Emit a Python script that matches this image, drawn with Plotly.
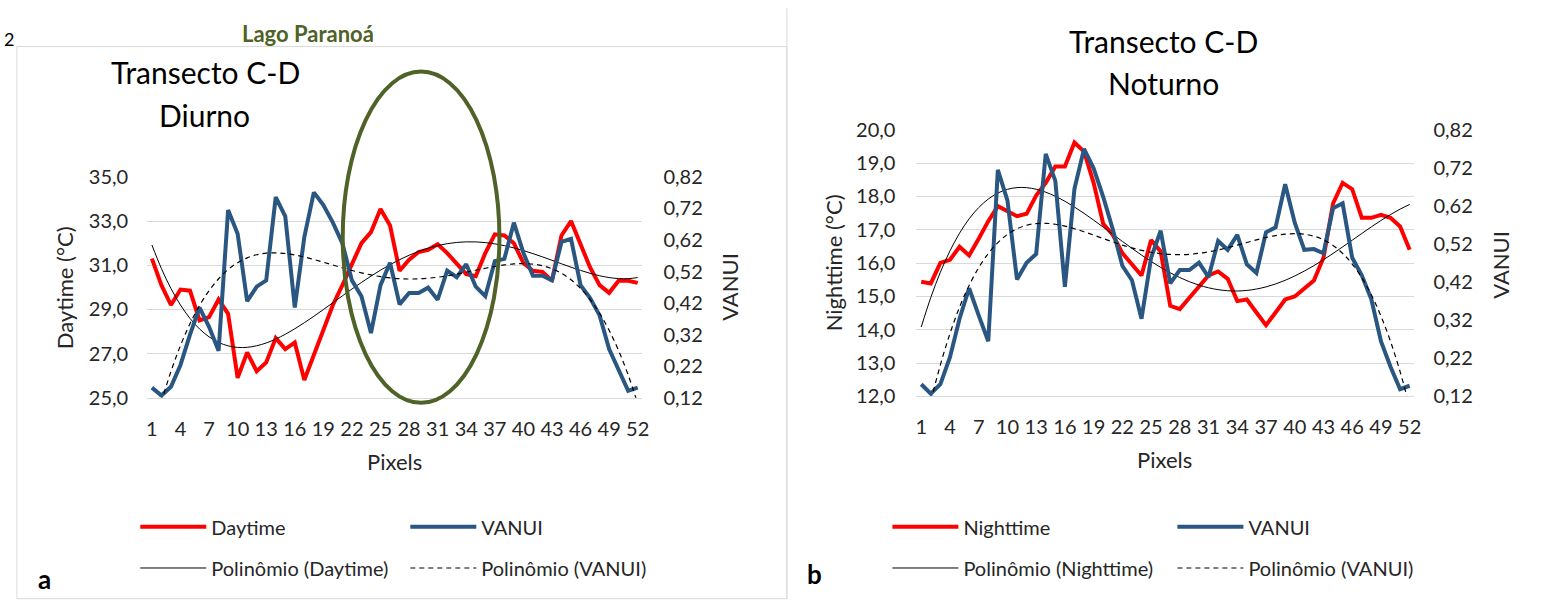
import numpy as np
import plotly.graph_objects as go

# ---------------- data ----------------
pixels = list(range(1, 53))

daytime = [31.3, 30.1, 29.2, 29.9, 29.85, 28.5, 28.65, 29.45, 28.8, 25.9,
           27.05, 26.2, 26.6, 27.7, 27.2, 27.5, 25.8, 26.9, 28.0, 29.2,
           30.1, 31.1, 32.0, 32.5, 33.55, 32.8, 30.75, 31.25, 31.6, 31.7,
           31.95, 31.55, 31.1, 30.6, 30.5, 31.55, 32.4, 32.35, 32.0, 31.1,
           30.75, 30.7, 30.3, 32.35, 33.0, 32.0, 30.9, 30.1, 29.75, 30.3,
           30.3, 30.2]

vanui_day = [0.152, 0.127, 0.155, 0.224, 0.320, 0.406, 0.345, 0.269, 0.715, 0.640,
             0.426, 0.472, 0.492, 0.756, 0.695, 0.406, 0.629, 0.771, 0.731, 0.675,
             0.609, 0.492, 0.442, 0.325, 0.477, 0.548, 0.416, 0.452, 0.452, 0.469,
             0.431, 0.523, 0.502, 0.543, 0.472, 0.442, 0.553, 0.560, 0.675, 0.579,
             0.507, 0.507, 0.492, 0.614, 0.624, 0.477, 0.436, 0.381, 0.274, 0.208,
             0.142, 0.152]

nighttime = [15.44, 15.39, 16.01, 16.10, 16.49, 16.23, 16.73, 17.26, 17.71, 17.55,
             17.41, 17.48, 18.03, 18.41, 18.90, 18.90, 19.62, 19.35, 18.41, 17.18,
             16.85, 16.30, 15.97, 15.63, 16.69, 16.35, 14.72, 14.62, 14.96, 15.29,
             15.63, 15.75, 15.53, 14.86, 14.91, 14.52, 14.14, 14.52, 14.91, 15.00,
             15.24, 15.48, 16.16, 17.79, 18.41, 18.22, 17.36, 17.36, 17.45, 17.36,
             17.10, 16.40]

vanui_night = [0.152, 0.127, 0.152, 0.223, 0.324, 0.404, 0.333, 0.265, 0.715, 0.635,
               0.427, 0.471, 0.494, 0.757, 0.686, 0.408, 0.665, 0.770, 0.719, 0.644,
               0.559, 0.463, 0.425, 0.324, 0.484, 0.555, 0.417, 0.452, 0.452, 0.471,
               0.433, 0.528, 0.505, 0.544, 0.467, 0.444, 0.551, 0.564, 0.677, 0.576,
               0.505, 0.507, 0.496, 0.614, 0.627, 0.484, 0.438, 0.375, 0.265, 0.198,
               0.139, 0.148]

day_ticks = [25, 27, 29, 31, 33, 35]
night_ticks = [12, 13, 14, 15, 16, 17, 18, 19, 20]
vanui_ticks = [0.12, 0.22, 0.32, 0.42, 0.52, 0.62, 0.72, 0.82]
x_ticks = list(range(1, 53, 3))

TREND_ORDER_DAY = 4
TREND_ORDER_NIGHT = 4
TREND_ORDER_VANUI = 4


def poly_trend(values, order):
    coef = np.polyfit(pixels, values, order)
    return np.polyval(coef, pixels)


# ---------------- styling ----------------
W, H = 1547, 603
FONT = "Lato"
RED = "#FF0000"
BLUE = "#2A5782"
GREEN = "#4F6228"
GRID = "#D9D9D9"
TXT = "#262626"
DASH = "5px,4px"


def px(x):
    return x / W


def py(y):
    return 1 - y / H


fig = go.Figure()

# ----- left chart (daytime) -----
fig.add_trace(go.Scatter(x=pixels, y=daytime, mode="lines", name="Daytime",
                         line=dict(color=RED, width=4), xaxis="x", yaxis="y",
                         legend="legend"))
fig.add_trace(go.Scatter(x=pixels, y=vanui_day, mode="lines", name="VANUI",
                         line=dict(color=BLUE, width=4), xaxis="x", yaxis="y2",
                         legend="legend"))
fig.add_trace(go.Scatter(x=pixels, y=poly_trend(daytime, TREND_ORDER_DAY), mode="lines",
                         name="Polinômio (Daytime)", line=dict(color="#000000", width=1),
                         line_shape="spline", xaxis="x", yaxis="y", legend="legend2"))
fig.add_trace(go.Scatter(x=pixels, y=poly_trend(vanui_day, TREND_ORDER_VANUI), mode="lines",
                         name="Polinômio (VANUI)", line=dict(color="#000000", width=1.2, dash=DASH),
                         line_shape="spline", xaxis="x", yaxis="y2", legend="legend2"))

# ----- right chart (nighttime) -----
fig.add_trace(go.Scatter(x=pixels, y=nighttime, mode="lines", name="Nighttime",
                         line=dict(color=RED, width=4), xaxis="x2", yaxis="y3",
                         legend="legend3"))
fig.add_trace(go.Scatter(x=pixels, y=vanui_night, mode="lines", name="VANUI",
                         line=dict(color=BLUE, width=4), xaxis="x2", yaxis="y4",
                         legend="legend3"))
fig.add_trace(go.Scatter(x=pixels, y=poly_trend(nighttime, TREND_ORDER_NIGHT), mode="lines",
                         name="Polinômio (Nighttime)", line=dict(color="#000000", width=1),
                         line_shape="spline", xaxis="x2", yaxis="y3", legend="legend4"))
fig.add_trace(go.Scatter(x=pixels, y=poly_trend(vanui_night, TREND_ORDER_VANUI), mode="lines",
                         name="Polinômio (VANUI)", line=dict(color="#000000", width=1.2, dash=DASH),
                         line_shape="spline", xaxis="x2", yaxis="y4", legend="legend4"))

tickfont = dict(family=FONT, size=20, color=TXT)

xcommon = dict(range=[0.5, 52.5], tickmode="array", tickvals=x_ticks,
               ticktext=[str(v) for v in x_ticks], showgrid=False, zeroline=False,
               showline=True, linecolor=GRID, linewidth=1, ticks="",
               tickfont=tickfont, ticklabelstandoff=13, fixedrange=True)

fig.update_layout(
    width=W, height=H,
    margin=dict(l=0, r=0, t=0, b=0),
    paper_bgcolor="white", plot_bgcolor="white",
    separators=",.",
    font=dict(family=FONT, color=TXT),
    xaxis=dict(domain=[px(146.9), px(644.8)], anchor="y", **xcommon),
    yaxis=dict(domain=[py(400.7), py(170.7)], range=[25, 35], tickvals=day_ticks,
               tickformat=".1f", showgrid=True, gridcolor=GRID, gridwidth=1,
               zeroline=False, ticks="", tickfont=tickfont, ticklabelstandoff=18,
               anchor="x"),
    yaxis2=dict(range=[0.12, 0.82], tickvals=vanui_ticks, tickformat=".2f",
                overlaying="y", side="right", anchor="x", showgrid=False,
                zeroline=False, ticks="", tickfont=tickfont, ticklabelstandoff=20),
    xaxis2=dict(domain=[px(920.2), px(1420.8)], anchor="y3", **xcommon),
    yaxis3=dict(domain=[py(399.3), py(121.7)], range=[12, 20], tickvals=night_ticks,
                tickformat=".1f", showgrid=True, gridcolor=GRID, gridwidth=1,
                zeroline=False, ticks="", tickfont=tickfont, ticklabelstandoff=20,
                anchor="x2"),
    yaxis4=dict(range=[0.12, 0.82], tickvals=vanui_ticks, tickformat=".2f",
                overlaying="y3", side="right", anchor="x2", showgrid=False,
                zeroline=False, ticks="", tickfont=tickfont, ticklabelstandoff=18),
    showlegend=True,
)

legfont = dict(family=FONT, size=20, color=TXT)
legcommon = dict(orientation="h", xanchor="left", yanchor="middle",
                 entrywidthmode="pixels", itemwidth=66, font=legfont,
                 bgcolor="rgba(0,0,0,0)", borderwidth=0, itemclick=False,
                 itemdoubleclick=False)
fig.update_layout(
    legend=dict(x=px(135), y=py(535), entrywidth=189, **legcommon),
    legend2=dict(x=px(135), y=py(578), entrywidth=189, **legcommon),
    legend3=dict(x=px(891), y=py(535), entrywidth=204, **legcommon),
    legend4=dict(x=px(891), y=py(578), entrywidth=204, **legcommon),
)

# ----- frames and ellipse -----
shapes = [
    dict(type="rect", xref="paper", yref="paper", x0=px(16), x1=px(790), y0=py(610), y1=py(35),
         line=dict(color=GRID, width=1), fillcolor="rgba(0,0,0,0)", layer="below"),
    dict(type="line", xref="paper", yref="paper", x0=px(790), x1=px(790), y0=py(610), y1=py(-5),
         line=dict(color=GRID, width=1), layer="below"),
    dict(type="circle", xref="paper", yref="paper", x0=px(343.5), x1=px(501), y0=py(406), y1=py(61),
         line=dict(color=GREEN, width=4), fillcolor="rgba(0,0,0,0)"),
]
fig.update_layout(shapes=shapes)

# ----- texts -----
ann = []


def add_text(text, x, y, size, bold=False, color=TXT, angle=0, xanchor="center"):
    ann.append(dict(text=("<b>%s</b>" % text) if bold else text, x=px(x), y=py(y),
                    xref="paper", yref="paper", showarrow=False, textangle=angle,
                    xanchor=xanchor, yanchor="middle",
                    font=dict(family=FONT, size=size, color=color)))


add_text("Lago Paranoá", 309, 21, 22, bold=True, color=GREEN)
add_text("2", 1, 27, 18, xanchor="left", color="#000000")
add_text("Transecto C-D", 206, 61, 30, color="#000000")
add_text("Diurno", 205, 106, 30, color="#000000")
add_text("Transecto C-D", 1169, 29, 30, color="#000000")
add_text("Noturno", 1169, 73, 30, color="#000000")
add_text("Daytime (°C)", 64, 286, 22, angle=-90)
add_text("VANUI", 732, 285, 22, angle=-90)
add_text("Nighttime (°C)", 837, 260, 22, angle=-90)
add_text("VANUI", 1507, 262, 22, angle=-90)
add_text("Pixels", 396, 467, 22)
add_text("Pixels", 1170, 465, 22)
add_text("a", 44, 589, 26, bold=True, color="#000000")
add_text("b", 818, 584, 26, bold=True, color="#000000")
fig.update_layout(annotations=ann)

fig.write_html("out.html")
